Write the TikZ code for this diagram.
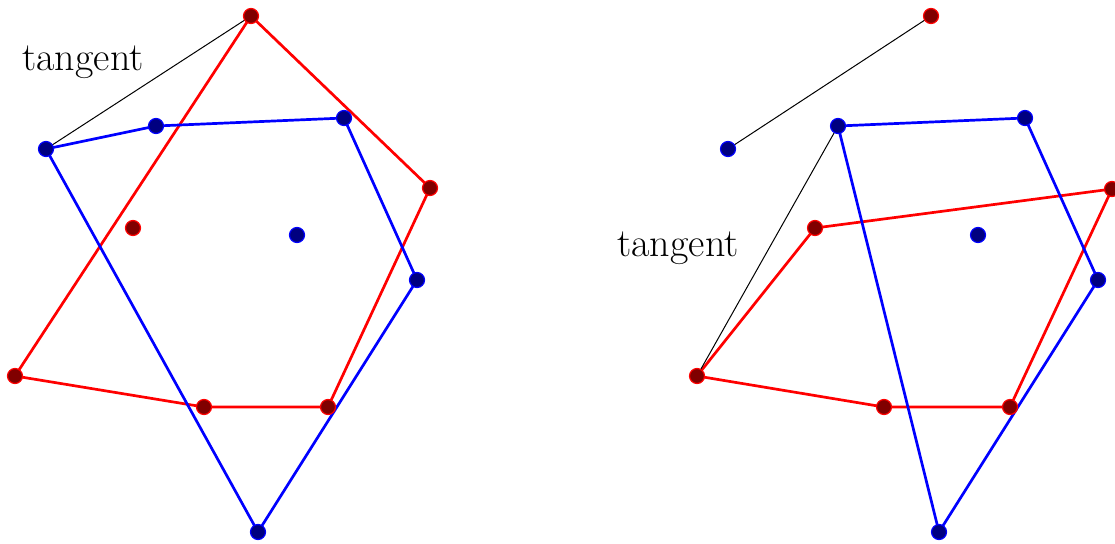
\documentclass[tikz,border=0pt]{standalone}
\begin{document}
\begin{tikzpicture}[x=1pt,y=-1pt,
  rdot/.style={circle,draw=red,fill=red!50!black,line width=1.2pt,minimum size=15pt,inner sep=0pt},
  bdot/.style={circle,draw=blue,fill=blue!50!black,line width=1.2pt,minimum size=15pt,inner sep=0pt},
  rline/.style={red,line width=2.7pt,line join=round},
  bline/.style={blue,line width=2.7pt,line join=round},
  tline/.style={black,line width=1pt},
  lbl/.style={font=\fontsize{40}{46}\selectfont,inner sep=0pt}]
\useasboundingbox (0,0) rectangle (1115,543);
% ---------- left figure ----------
\coordinate (LR1) at (251,16);
\coordinate (LR2) at (430,188);
\coordinate (LR3) at (133,228);
\coordinate (LR4) at (15,376);
\coordinate (LR5) at (204,407);
\coordinate (LR6) at (328,407);
\coordinate (LB1) at (46,149);
\coordinate (LB2) at (156,126);
\coordinate (LB3) at (344,118);
\coordinate (LB4) at (297,235);
\coordinate (LB5) at (417,280);
\coordinate (LB6) at (258,532);
\draw[rline] (LR1) -- (LR2) -- (LR6) -- (LR5) -- (LR4) -- cycle;
\draw[bline] (LB1) -- (LB2) -- (LB3) -- (LB5) -- (LB6) -- cycle;
\draw[tline] (LR1) -- (LB1);
\foreach \p in {LR1,LR2,LR3,LR4,LR5,LR6} \node[rdot] (n\p) at (\p) {};
\foreach \p in {LB1,LB2,LB3,LB4,LB5,LB6} \node[bdot] (n\p) at (\p) {};
\node[lbl] (tl) at (83,62) {tangent};
% ---------- right figure ----------
\coordinate (RR1) at (931,16);
\coordinate (RR2) at (1112,189);
\coordinate (RR3) at (815,228);
\coordinate (RR4) at (697,376);
\coordinate (RR5) at (884,407);
\coordinate (RR6) at (1010,407);
\coordinate (RB1) at (728,149);
\coordinate (RB2) at (838,126);
\coordinate (RB3) at (1025,118);
\coordinate (RB4) at (978,235);
\coordinate (RB5) at (1098,280);
\coordinate (RB6) at (939,532);
\draw[rline] (RR3) -- (RR2) -- (RR6) -- (RR5) -- (RR4) -- cycle;
\draw[bline] (RB2) -- (RB3) -- (RB5) -- (RB6) -- cycle;
\draw[tline] (RR1) -- (RB1);
\draw[tline] (RB2) -- (RR4);
\foreach \p in {RR1,RR2,RR3,RR4,RR5,RR6} \node[rdot] (n\p) at (\p) {};
\foreach \p in {RB1,RB2,RB3,RB4,RB5,RB6} \node[bdot] (n\p) at (\p) {};
\node[lbl] (tr) at (678,248) {tangent};
\end{tikzpicture}
\end{document}
